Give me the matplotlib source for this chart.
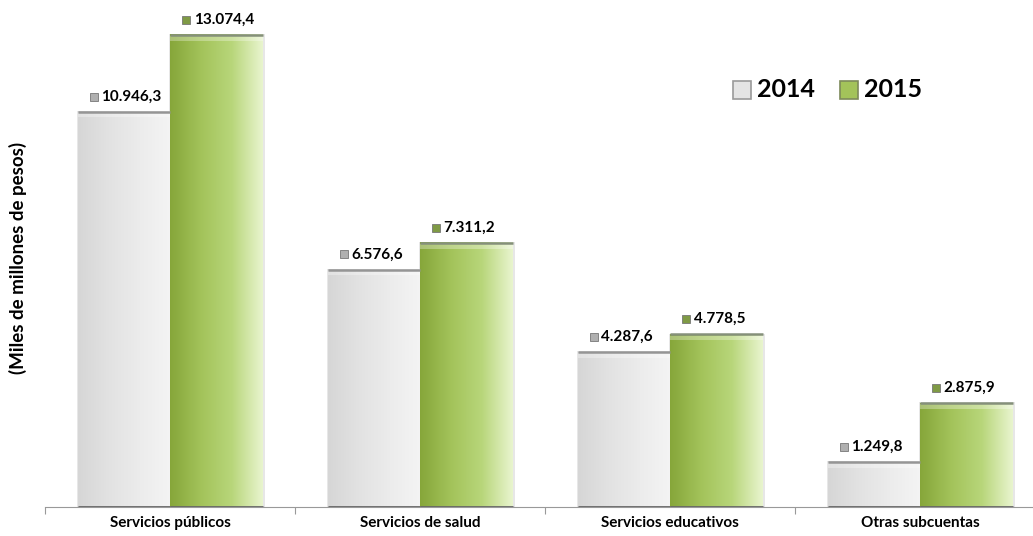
import numpy as np
from matplotlib import pyplot as plt
from matplotlib.colors import LinearSegmentedColormap
from matplotlib.patches import Rectangle

categorias = ["Servicios públicos", "Servicios de salud", "Servicios educativos", "Otras subcuentas"]
anios = ["2014", "2015"]
valores_2014 = [10946.3, 6576.6, 4287.6, 1249.8]
valores_2015 = [13074.4, 7311.2, 4778.5, 2875.9]


def fmt(v):
    s = f"{v:,.1f}"
    return s.replace(",", "X").replace(".", ",").replace("X", ".")


cmap_gris = LinearSegmentedColormap.from_list("gris", ["#d6d6d6", "#e2e2e2", "#ececec", "#f4f4f4"])
cmap_verde = LinearSegmentedColormap.from_list("verde", ["#86a63a", "#a3c35a", "#b8d67a", "#e9f5cf"])

plt.rcParams['font.family'] = ['Lato', 'DejaVu Sans']

fig = plt.figure(figsize=(10.33, 5.36), dpi=100)
ax = fig.add_axes([45 / 1033, 29 / 536, 1000 / 1033, 507 / 536])
ax.set_xlim(-0.5, 3.5)
ax.set_ylim(0, 14040)

ancho = 0.37
grad = np.linspace(0, 1, 256).reshape(1, -1)


def barra(x0, h, cmap, borde):
    # sombra suave alrededor
    ax.add_patch(Rectangle((x0 - 0.004, -40), ancho + 0.012, h + 60, color="#bbbbbb", alpha=0.35, zorder=1, lw=0))
    ax.imshow(grad, cmap=cmap, aspect='auto', extent=(x0, x0 + ancho, 0, h), zorder=2,
              interpolation='bicubic')
    # borde superior oscuro y brillo
    ax.plot([x0, x0 + ancho], [h, h], color=borde, lw=1.8, zorder=4, solid_capstyle='butt')
    ax.add_patch(Rectangle((x0, h - 160), ancho, 130, color="#ffffff", alpha=0.3, zorder=3, lw=0))
    ax.plot([x0, x0 + ancho], [0, 0], color="#666666", lw=2, zorder=4, solid_capstyle='butt')


x = np.arange(len(categorias))
for i in range(len(categorias)):
    x1 = x[i] - ancho
    x2 = x[i]
    barra(x1, valores_2014[i], cmap_gris, "#959595")
    barra(x2, valores_2015[i], cmap_verde, "#85907a")
    for xx, v, c in [(x1, valores_2014[i], "#b0b0b0"), (x2, valores_2015[i], "#7f9a45")]:
        xc = xx + ancho / 2
        ax.plot(xc - 0.12, v + 420, marker='s', ms=6, color=c, mec="#777777", mew=0.6, zorder=5)
        ax.text(xc - 0.09, v + 420, fmt(v), fontsize=11, fontweight='bold', va='center', ha='left', zorder=5)

ax.set_xticks(np.arange(-0.5, 3.6, 1))
ax.set_xticklabels([])
ax.tick_params(axis='x', length=5, color="#999999")
for i, c in enumerate(categorias):
    ax.text(x[i], -440, c, ha='center', va='center', fontsize=11, fontweight='bold')
ax.set_yticks([])
for s in ['top', 'right', 'left']:
    ax.spines[s].set_visible(False)
ax.spines['bottom'].set_color("#999999")

# leyenda
yl = 11550
ax.plot(2.288, yl, marker='s', ms=13, color="#e4e4e4", mec="#9a9a9a", mew=1.2)
ax.text(2.35, yl, anios[0], fontsize=18, fontweight='bold', va='center')
ax.plot(2.716, yl, marker='s', ms=13, color="#a3c35a", mec="#7d8a5a", mew=1.2)
ax.text(2.776, yl, anios[1], fontsize=18, fontweight='bold', va='center')

fig.text(18 / 1033, 1 - 258 / 536, "(Miles de millones de pesos)", rotation=90, fontsize=13.5,
         fontweight='bold', ha='center', va='center')

fig.savefig("out.png", dpi=100)
